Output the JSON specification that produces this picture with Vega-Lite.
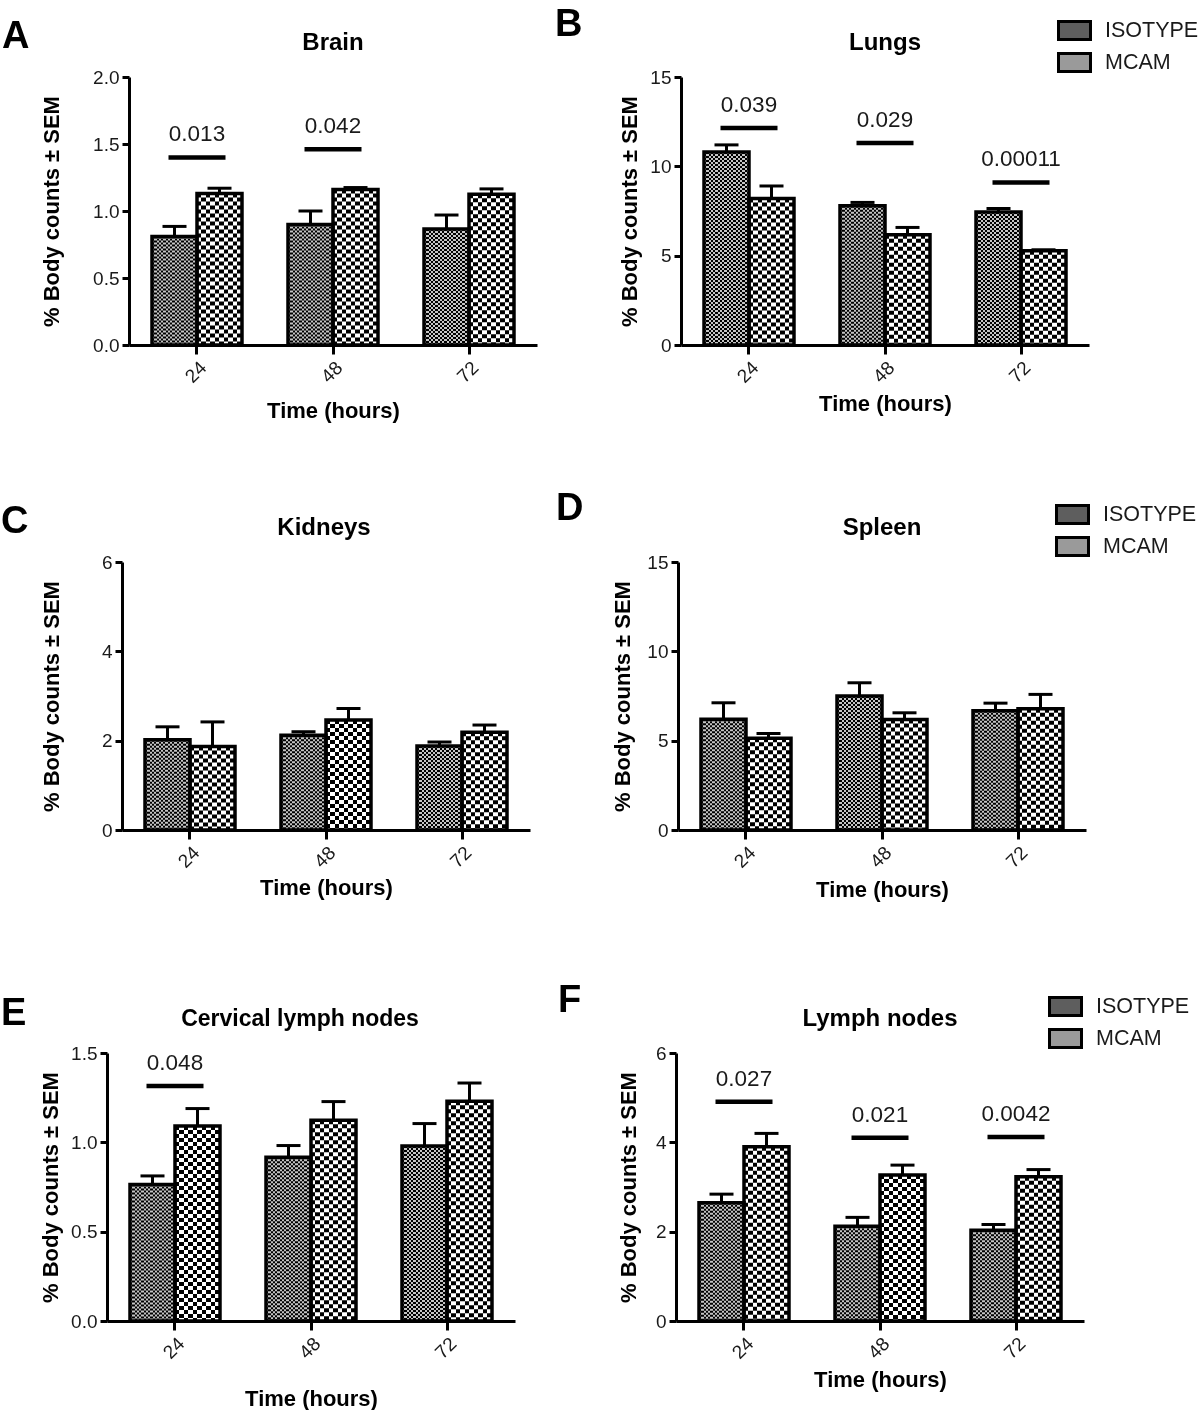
{
  "$schema": "https://vega.github.io/schema/vega-lite/v6.json",
  "padding": {"left": 0, "top": 6, "right": 0, "bottom": 0},
  "background": "white",
  "datasets": {
    "bars": [
      {"panel": "A", "time": "24", "group": "ISOTYPE", "mean": 0.81, "hi": 0.885},
      {"panel": "A", "time": "24", "group": "MCAM", "mean": 1.13, "hi": 1.17},
      {"panel": "A", "time": "48", "group": "ISOTYPE", "mean": 0.90, "hi": 1.00},
      {"panel": "A", "time": "48", "group": "MCAM", "mean": 1.16, "hi": 1.175},
      {"panel": "A", "time": "72", "group": "ISOTYPE", "mean": 0.865, "hi": 0.97},
      {"panel": "A", "time": "72", "group": "MCAM", "mean": 1.125, "hi": 1.165},
      {"panel": "B", "time": "24", "group": "ISOTYPE", "mean": 10.8, "hi": 11.2},
      {"panel": "B", "time": "24", "group": "MCAM", "mean": 8.2, "hi": 8.9},
      {"panel": "B", "time": "48", "group": "ISOTYPE", "mean": 7.8, "hi": 7.98},
      {"panel": "B", "time": "48", "group": "MCAM", "mean": 6.17, "hi": 6.58},
      {"panel": "B", "time": "72", "group": "ISOTYPE", "mean": 7.44, "hi": 7.64},
      {"panel": "B", "time": "72", "group": "MCAM", "mean": 5.27, "hi": 5.33},
      {"panel": "C", "time": "24", "group": "ISOTYPE", "mean": 2.02, "hi": 2.31},
      {"panel": "C", "time": "24", "group": "MCAM", "mean": 1.87, "hi": 2.42},
      {"panel": "C", "time": "48", "group": "ISOTYPE", "mean": 2.12, "hi": 2.20},
      {"panel": "C", "time": "48", "group": "MCAM", "mean": 2.46, "hi": 2.72},
      {"panel": "C", "time": "72", "group": "ISOTYPE", "mean": 1.88, "hi": 1.97},
      {"panel": "C", "time": "72", "group": "MCAM", "mean": 2.19, "hi": 2.35},
      {"panel": "D", "time": "24", "group": "ISOTYPE", "mean": 6.2, "hi": 7.12},
      {"panel": "D", "time": "24", "group": "MCAM", "mean": 5.14, "hi": 5.4},
      {"panel": "D", "time": "48", "group": "ISOTYPE", "mean": 7.5, "hi": 8.24},
      {"panel": "D", "time": "48", "group": "MCAM", "mean": 6.19, "hi": 6.56},
      {"panel": "D", "time": "72", "group": "ISOTYPE", "mean": 6.67, "hi": 7.1},
      {"panel": "D", "time": "72", "group": "MCAM", "mean": 6.79, "hi": 7.59},
      {"panel": "E", "time": "24", "group": "ISOTYPE", "mean": 0.764, "hi": 0.812},
      {"panel": "E", "time": "24", "group": "MCAM", "mean": 1.092, "hi": 1.189},
      {"panel": "E", "time": "48", "group": "ISOTYPE", "mean": 0.917, "hi": 0.982},
      {"panel": "E", "time": "48", "group": "MCAM", "mean": 1.124, "hi": 1.228},
      {"panel": "E", "time": "72", "group": "ISOTYPE", "mean": 0.98, "hi": 1.105},
      {"panel": "E", "time": "72", "group": "MCAM", "mean": 1.23, "hi": 1.332},
      {"panel": "F", "time": "24", "group": "ISOTYPE", "mean": 2.65, "hi": 2.84},
      {"panel": "F", "time": "24", "group": "MCAM", "mean": 3.90, "hi": 4.20},
      {"panel": "F", "time": "48", "group": "ISOTYPE", "mean": 2.12, "hi": 2.32},
      {"panel": "F", "time": "48", "group": "MCAM", "mean": 3.27, "hi": 3.49},
      {"panel": "F", "time": "72", "group": "ISOTYPE", "mean": 2.03, "hi": 2.16},
      {"panel": "F", "time": "72", "group": "MCAM", "mean": 3.23, "hi": 3.39}
    ],
    "sig": [
      {"panel": "A", "time": "24", "y": 1.40, "p": "0.013"},
      {"panel": "A", "time": "48", "y": 1.46, "p": "0.042"},
      {"panel": "B", "time": "24", "y": 12.15, "p": "0.039"},
      {"panel": "B", "time": "48", "y": 11.3, "p": "0.029"},
      {"panel": "B", "time": "72", "y": 9.1, "p": "0.00011"},
      {"panel": "E", "time": "24", "y": 1.315, "p": "0.048"},
      {"panel": "F", "time": "24", "y": 4.91, "p": "0.027"},
      {"panel": "F", "time": "48", "y": 4.10, "p": "0.021"},
      {"panel": "F", "time": "72", "y": 4.12, "p": "0.0042"}
    ]
  },
  "config": {
    "font": "Liberation Sans",
    "view": {"stroke": null},
    "title": {"fontSize": 24, "fontWeight": "bold", "color": "black", "offset": 13, "anchor": "middle"},
    "axis": {"domainColor": "black", "domainWidth": 3, "tickColor": "black", "tickWidth": 3, "labelFontSize": 19, "labelColor": "#1a1a1a", "titleFontSize": 22, "titleFontWeight": "bold", "titleColor": "black", "grid": false},
    "axisX": {"labelAngle": -45, "tickSize": 9, "labelPadding": 4},
    "axisY": {"tickSize": 7, "labelPadding": 3}
  },
  "resolve": {"scale": {"fill": "independent"}, "legend": {"fill": "independent"}},
  "columns": 1,
  "spacing": 81,
  "concat": [
    {
      "resolve": {"scale": {"fill": "independent"}, "legend": {"fill": "independent"}},
      "columns": 1,
      "spacing": 68,
      "concat": [
        {
          "resolve": {"scale": {"fill": "independent"}, "legend": {"fill": "independent"}},
          "spacing": 17,
          "hconcat": [
            {
              "title": {"text": "A", "anchor": "start", "frame": "bounds", "fontSize": 38, "fontWeight": "bold", "dx": -39, "offset": -25},
              "vconcat": [{
                "width": 408, "height": 268,
                "title": {"text": "Brain"},
                "data": {"name": "bars"},
                "transform": [{"filter": "datum.panel === 'A'"}],
                "encoding": {
                  "x": {"field": "time", "type": "nominal", "sort": ["24", "48", "72"], "scale": {"paddingInner": 0.33824, "paddingOuter": 0.16912}, "axis": {"title": "Time (hours)", "titlePadding": 14}}
                },
                "layer": [
                  {"transform": [{"filter": "datum.group === 'ISOTYPE'"}], "mark": {"type": "bar", "fill": {"gradient": "linear", "x1": 0, "y1": 0, "x2": 1, "y2": 0, "stops": [{"offset": 0, "color": "#000000"}, {"offset": 0.05, "color": "#000000"}, {"offset": 0.05, "color": "#c4c4c4"}, {"offset": 0.1, "color": "#c4c4c4"}, {"offset": 0.1, "color": "#000000"}, {"offset": 0.15, "color": "#000000"}, {"offset": 0.15, "color": "#c4c4c4"}, {"offset": 0.2, "color": "#c4c4c4"}, {"offset": 0.2, "color": "#000000"}, {"offset": 0.25, "color": "#000000"}, {"offset": 0.25, "color": "#c4c4c4"}, {"offset": 0.3, "color": "#c4c4c4"}, {"offset": 0.3, "color": "#000000"}, {"offset": 0.35, "color": "#000000"}, {"offset": 0.35, "color": "#c4c4c4"}, {"offset": 0.4, "color": "#c4c4c4"}, {"offset": 0.4, "color": "#000000"}, {"offset": 0.45, "color": "#000000"}, {"offset": 0.45, "color": "#c4c4c4"}, {"offset": 0.5, "color": "#c4c4c4"}, {"offset": 0.5, "color": "#000000"}, {"offset": 0.55, "color": "#000000"}, {"offset": 0.55, "color": "#c4c4c4"}, {"offset": 0.6, "color": "#c4c4c4"}, {"offset": 0.6, "color": "#000000"}, {"offset": 0.65, "color": "#000000"}, {"offset": 0.65, "color": "#c4c4c4"}, {"offset": 0.7, "color": "#c4c4c4"}, {"offset": 0.7, "color": "#000000"}, {"offset": 0.75, "color": "#000000"}, {"offset": 0.75, "color": "#c4c4c4"}, {"offset": 0.8, "color": "#c4c4c4"}, {"offset": 0.8, "color": "#000000"}, {"offset": 0.85, "color": "#000000"}, {"offset": 0.85, "color": "#c4c4c4"}, {"offset": 0.9, "color": "#c4c4c4"}, {"offset": 0.9, "color": "#000000"}, {"offset": 0.95, "color": "#000000"}, {"offset": 0.95, "color": "#c4c4c4"}, {"offset": 1, "color": "#c4c4c4"}]}}, "encoding": {"xOffset": {"field": "group", "type": "nominal", "scale": {"domain": ["ISOTYPE", "MCAM"], "paddingInner": 0, "paddingOuter": 0}}, "y": {"field": "mean", "type": "quantitative", "scale": {"domain": [0, 2], "nice": false}, "axis": {"title": "% Body counts ± SEM", "values": [0, 0.5, 1, 1.5, 2], "format": ".1f", "titlePadding": 28.6}}}},
                  {"transform": [{"filter": "datum.group === 'ISOTYPE'"}], "mark": {"type": "rule", "stroke": "#c4c4c4", "strokeWidth": 45, "strokeDash": [2, 2], "blend": "difference"}, "encoding": {"xOffset": {"field": "group", "type": "nominal"}, "y": {"field": "mean", "type": "quantitative"}, "y2": {"datum": 0}}},
                  {"transform": [{"filter": "datum.group === 'MCAM'"}], "mark": {"type": "bar", "fill": {"gradient": "linear", "x1": 0, "y1": 0, "x2": 1, "y2": 0, "stops": [{"offset": 0, "color": "#ffffff"}, {"offset": 0.1, "color": "#ffffff"}, {"offset": 0.1, "color": "#000000"}, {"offset": 0.2, "color": "#000000"}, {"offset": 0.2, "color": "#ffffff"}, {"offset": 0.3, "color": "#ffffff"}, {"offset": 0.3, "color": "#000000"}, {"offset": 0.4, "color": "#000000"}, {"offset": 0.4, "color": "#ffffff"}, {"offset": 0.5, "color": "#ffffff"}, {"offset": 0.5, "color": "#000000"}, {"offset": 0.6, "color": "#000000"}, {"offset": 0.6, "color": "#ffffff"}, {"offset": 0.7, "color": "#ffffff"}, {"offset": 0.7, "color": "#000000"}, {"offset": 0.8, "color": "#000000"}, {"offset": 0.8, "color": "#ffffff"}, {"offset": 0.9, "color": "#ffffff"}, {"offset": 0.9, "color": "#000000"}, {"offset": 1, "color": "#000000"}]}}, "encoding": {"xOffset": {"field": "group", "type": "nominal"}, "y": {"field": "mean", "type": "quantitative"}}},
                  {"transform": [{"filter": "datum.group === 'MCAM'"}], "mark": {"type": "rule", "stroke": "#ffffff", "strokeWidth": 45, "strokeDash": [4, 4], "blend": "difference"}, "encoding": {"xOffset": {"field": "group", "type": "nominal"}, "y": {"field": "mean", "type": "quantitative"}, "y2": {"datum": 0}}},
                  {"mark": {"type": "bar", "fill": "transparent", "stroke": "black", "strokeWidth": 3.5}, "encoding": {"xOffset": {"field": "group", "type": "nominal"}, "y": {"field": "mean", "type": "quantitative"}}},
                  {"mark": {"type": "rule", "color": "black", "strokeWidth": 3}, "encoding": {"xOffset": {"field": "group", "type": "nominal"}, "y": {"field": "mean", "type": "quantitative"}, "y2": {"field": "hi"}}},
                  {"mark": {"type": "tick", "orient": "horizontal", "color": "black", "opacity": 1, "size": 24, "thickness": 3}, "encoding": {"xOffset": {"field": "group", "type": "nominal"}, "y": {"field": "hi", "type": "quantitative"}}},
                  {"data": {"name": "sig"}, "transform": [{"filter": "datum.panel === 'A'"}], "mark": {"type": "tick", "orient": "horizontal", "color": "black", "opacity": 1, "size": 57, "thickness": 4.5}, "encoding": {"y": {"field": "y", "type": "quantitative"}}},
                  {"data": {"name": "sig"}, "transform": [{"filter": "datum.panel === 'A'"}], "mark": {"type": "text", "dy": -23, "fontSize": 22.5, "color": "#1a1a1a"}, "encoding": {"y": {"field": "y", "type": "quantitative"}, "text": {"field": "p"}}}
                ]
              }]
            },
            {
              "title": {"text": "B", "anchor": "start", "frame": "bounds", "fontSize": 38, "fontWeight": "bold", "dx": -64, "offset": -25},
              "vconcat": [{
                "width": 408, "height": 268,
                "title": {"text": "Lungs"},
                "data": {"name": "bars"},
                "transform": [{"filter": "datum.panel === 'B'"}],
                "encoding": {
                  "x": {"field": "time", "type": "nominal", "sort": ["24", "48", "72"], "scale": {"paddingInner": 0.33824, "paddingOuter": 0.16912}, "axis": {"title": "Time (hours)", "titlePadding": 7}}
                },
                "layer": [
                  {"transform": [{"filter": "datum.group === 'ISOTYPE'"}], "mark": {"type": "bar", "fill": {"gradient": "linear", "x1": 0, "y1": 0, "x2": 1, "y2": 0, "stops": [{"offset": 0, "color": "#000000"}, {"offset": 0.05, "color": "#000000"}, {"offset": 0.05, "color": "#c4c4c4"}, {"offset": 0.1, "color": "#c4c4c4"}, {"offset": 0.1, "color": "#000000"}, {"offset": 0.15, "color": "#000000"}, {"offset": 0.15, "color": "#c4c4c4"}, {"offset": 0.2, "color": "#c4c4c4"}, {"offset": 0.2, "color": "#000000"}, {"offset": 0.25, "color": "#000000"}, {"offset": 0.25, "color": "#c4c4c4"}, {"offset": 0.3, "color": "#c4c4c4"}, {"offset": 0.3, "color": "#000000"}, {"offset": 0.35, "color": "#000000"}, {"offset": 0.35, "color": "#c4c4c4"}, {"offset": 0.4, "color": "#c4c4c4"}, {"offset": 0.4, "color": "#000000"}, {"offset": 0.45, "color": "#000000"}, {"offset": 0.45, "color": "#c4c4c4"}, {"offset": 0.5, "color": "#c4c4c4"}, {"offset": 0.5, "color": "#000000"}, {"offset": 0.55, "color": "#000000"}, {"offset": 0.55, "color": "#c4c4c4"}, {"offset": 0.6, "color": "#c4c4c4"}, {"offset": 0.6, "color": "#000000"}, {"offset": 0.65, "color": "#000000"}, {"offset": 0.65, "color": "#c4c4c4"}, {"offset": 0.7, "color": "#c4c4c4"}, {"offset": 0.7, "color": "#000000"}, {"offset": 0.75, "color": "#000000"}, {"offset": 0.75, "color": "#c4c4c4"}, {"offset": 0.8, "color": "#c4c4c4"}, {"offset": 0.8, "color": "#000000"}, {"offset": 0.85, "color": "#000000"}, {"offset": 0.85, "color": "#c4c4c4"}, {"offset": 0.9, "color": "#c4c4c4"}, {"offset": 0.9, "color": "#000000"}, {"offset": 0.95, "color": "#000000"}, {"offset": 0.95, "color": "#c4c4c4"}, {"offset": 1, "color": "#c4c4c4"}]}}, "encoding": {"xOffset": {"field": "group", "type": "nominal", "scale": {"domain": ["ISOTYPE", "MCAM"], "paddingInner": 0, "paddingOuter": 0}}, "y": {"field": "mean", "type": "quantitative", "scale": {"domain": [0, 15], "nice": false}, "axis": {"title": "% Body counts ± SEM", "values": [0, 5, 10, 15], "format": "d", "titlePadding": 7.9}}}},
                  {"transform": [{"filter": "datum.group === 'ISOTYPE'"}], "mark": {"type": "rule", "stroke": "#c4c4c4", "strokeWidth": 45, "strokeDash": [2, 2], "blend": "difference"}, "encoding": {"xOffset": {"field": "group", "type": "nominal"}, "y": {"field": "mean", "type": "quantitative"}, "y2": {"datum": 0}}},
                  {"transform": [{"filter": "datum.group === 'MCAM'"}], "mark": {"type": "bar", "fill": {"gradient": "linear", "x1": 0, "y1": 0, "x2": 1, "y2": 0, "stops": [{"offset": 0, "color": "#ffffff"}, {"offset": 0.1, "color": "#ffffff"}, {"offset": 0.1, "color": "#000000"}, {"offset": 0.2, "color": "#000000"}, {"offset": 0.2, "color": "#ffffff"}, {"offset": 0.3, "color": "#ffffff"}, {"offset": 0.3, "color": "#000000"}, {"offset": 0.4, "color": "#000000"}, {"offset": 0.4, "color": "#ffffff"}, {"offset": 0.5, "color": "#ffffff"}, {"offset": 0.5, "color": "#000000"}, {"offset": 0.6, "color": "#000000"}, {"offset": 0.6, "color": "#ffffff"}, {"offset": 0.7, "color": "#ffffff"}, {"offset": 0.7, "color": "#000000"}, {"offset": 0.8, "color": "#000000"}, {"offset": 0.8, "color": "#ffffff"}, {"offset": 0.9, "color": "#ffffff"}, {"offset": 0.9, "color": "#000000"}, {"offset": 1, "color": "#000000"}]}}, "encoding": {"xOffset": {"field": "group", "type": "nominal"}, "y": {"field": "mean", "type": "quantitative"}}},
                  {"transform": [{"filter": "datum.group === 'MCAM'"}], "mark": {"type": "rule", "stroke": "#ffffff", "strokeWidth": 45, "strokeDash": [4, 4], "blend": "difference"}, "encoding": {"xOffset": {"field": "group", "type": "nominal"}, "y": {"field": "mean", "type": "quantitative"}, "y2": {"datum": 0}}},
                  {"mark": {"type": "bar", "fill": "transparent", "stroke": "black", "strokeWidth": 3.5}, "encoding": {"xOffset": {"field": "group", "type": "nominal"}, "y": {"field": "mean", "type": "quantitative"}}},
                  {"mark": {"type": "rule", "color": "black", "strokeWidth": 3}, "encoding": {"xOffset": {"field": "group", "type": "nominal"}, "y": {"field": "mean", "type": "quantitative"}, "y2": {"field": "hi"}}},
                  {"mark": {"type": "tick", "orient": "horizontal", "color": "black", "opacity": 1, "size": 24, "thickness": 3}, "encoding": {"xOffset": {"field": "group", "type": "nominal"}, "y": {"field": "hi", "type": "quantitative"}}},
                  {"transform": [{"filter": "datum.mean < 0"}], "mark": {"type": "square", "stroke": "black", "strokeWidth": 3, "opacity": 1}, "encoding": {"y": {"field": "mean", "type": "quantitative"}, "fill": {"field": "group", "type": "nominal", "scale": {"domain": ["ISOTYPE", "MCAM"], "range": ["#5e5e5e", "#9a9a9a"]}, "legend": {"orient": "none", "legendX": 382, "legendY": -58, "title": null, "symbolType": "M-1.6,-0.9H1.6V0.9H-1.6Z", "symbolSize": 400, "symbolStrokeColor": "black", "symbolStrokeWidth": 3, "symbolOpacity": 1, "labelFontSize": 21.5, "labelColor": "#1a1a1a", "labelOffset": 19, "rowPadding": 1}}}},
                  {"data": {"name": "sig"}, "transform": [{"filter": "datum.panel === 'B'"}], "mark": {"type": "tick", "orient": "horizontal", "color": "black", "opacity": 1, "size": 57, "thickness": 4.5}, "encoding": {"y": {"field": "y", "type": "quantitative"}}},
                  {"data": {"name": "sig"}, "transform": [{"filter": "datum.panel === 'B'"}], "mark": {"type": "text", "dy": -23, "fontSize": 22.5, "color": "#1a1a1a"}, "encoding": {"y": {"field": "y", "type": "quantitative"}, "text": {"field": "p"}}}
                ]
              }]
            }
          ]
        },
        {
          "resolve": {"scale": {"fill": "independent"}, "legend": {"fill": "independent"}},
          "spacing": 18,
          "hconcat": [
            {
              "title": {"text": "C", "anchor": "start", "frame": "bounds", "fontSize": 38, "fontWeight": "bold", "dx": -39, "offset": -25},
              "vconcat": [{
                "width": 408, "height": 268,
                "title": {"text": "Kidneys", "dx": -9},
                "data": {"name": "bars"},
                "transform": [{"filter": "datum.panel === 'C'"}],
                "encoding": {
                  "x": {"field": "time", "type": "nominal", "sort": ["24", "48", "72"], "scale": {"range": [-7, 401], "paddingInner": 0.33824, "paddingOuter": 0.16912}, "axis": {"title": "Time (hours)", "titlePadding": 6}}
                },
                "layer": [
                  {"transform": [{"filter": "datum.group === 'ISOTYPE'"}], "mark": {"type": "bar", "fill": {"gradient": "linear", "x1": 0, "y1": 0, "x2": 1, "y2": 0, "stops": [{"offset": 0, "color": "#000000"}, {"offset": 0.05, "color": "#000000"}, {"offset": 0.05, "color": "#c4c4c4"}, {"offset": 0.1, "color": "#c4c4c4"}, {"offset": 0.1, "color": "#000000"}, {"offset": 0.15, "color": "#000000"}, {"offset": 0.15, "color": "#c4c4c4"}, {"offset": 0.2, "color": "#c4c4c4"}, {"offset": 0.2, "color": "#000000"}, {"offset": 0.25, "color": "#000000"}, {"offset": 0.25, "color": "#c4c4c4"}, {"offset": 0.3, "color": "#c4c4c4"}, {"offset": 0.3, "color": "#000000"}, {"offset": 0.35, "color": "#000000"}, {"offset": 0.35, "color": "#c4c4c4"}, {"offset": 0.4, "color": "#c4c4c4"}, {"offset": 0.4, "color": "#000000"}, {"offset": 0.45, "color": "#000000"}, {"offset": 0.45, "color": "#c4c4c4"}, {"offset": 0.5, "color": "#c4c4c4"}, {"offset": 0.5, "color": "#000000"}, {"offset": 0.55, "color": "#000000"}, {"offset": 0.55, "color": "#c4c4c4"}, {"offset": 0.6, "color": "#c4c4c4"}, {"offset": 0.6, "color": "#000000"}, {"offset": 0.65, "color": "#000000"}, {"offset": 0.65, "color": "#c4c4c4"}, {"offset": 0.7, "color": "#c4c4c4"}, {"offset": 0.7, "color": "#000000"}, {"offset": 0.75, "color": "#000000"}, {"offset": 0.75, "color": "#c4c4c4"}, {"offset": 0.8, "color": "#c4c4c4"}, {"offset": 0.8, "color": "#000000"}, {"offset": 0.85, "color": "#000000"}, {"offset": 0.85, "color": "#c4c4c4"}, {"offset": 0.9, "color": "#c4c4c4"}, {"offset": 0.9, "color": "#000000"}, {"offset": 0.95, "color": "#000000"}, {"offset": 0.95, "color": "#c4c4c4"}, {"offset": 1, "color": "#c4c4c4"}]}}, "encoding": {"xOffset": {"field": "group", "type": "nominal", "scale": {"domain": ["ISOTYPE", "MCAM"], "paddingInner": 0, "paddingOuter": 0}}, "y": {"field": "mean", "type": "quantitative", "scale": {"domain": [0, 6], "nice": false}, "axis": {"title": "% Body counts ± SEM", "values": [0, 2, 4, 6], "format": "d", "titlePadding": 38.4, "offset": 7}}}},
                  {"transform": [{"filter": "datum.group === 'ISOTYPE'"}], "mark": {"type": "rule", "stroke": "#c4c4c4", "strokeWidth": 45, "strokeDash": [2, 2], "blend": "difference"}, "encoding": {"xOffset": {"field": "group", "type": "nominal"}, "y": {"field": "mean", "type": "quantitative"}, "y2": {"datum": 0}}},
                  {"transform": [{"filter": "datum.group === 'MCAM'"}], "mark": {"type": "bar", "fill": {"gradient": "linear", "x1": 0, "y1": 0, "x2": 1, "y2": 0, "stops": [{"offset": 0, "color": "#ffffff"}, {"offset": 0.1, "color": "#ffffff"}, {"offset": 0.1, "color": "#000000"}, {"offset": 0.2, "color": "#000000"}, {"offset": 0.2, "color": "#ffffff"}, {"offset": 0.3, "color": "#ffffff"}, {"offset": 0.3, "color": "#000000"}, {"offset": 0.4, "color": "#000000"}, {"offset": 0.4, "color": "#ffffff"}, {"offset": 0.5, "color": "#ffffff"}, {"offset": 0.5, "color": "#000000"}, {"offset": 0.6, "color": "#000000"}, {"offset": 0.6, "color": "#ffffff"}, {"offset": 0.7, "color": "#ffffff"}, {"offset": 0.7, "color": "#000000"}, {"offset": 0.8, "color": "#000000"}, {"offset": 0.8, "color": "#ffffff"}, {"offset": 0.9, "color": "#ffffff"}, {"offset": 0.9, "color": "#000000"}, {"offset": 1, "color": "#000000"}]}}, "encoding": {"xOffset": {"field": "group", "type": "nominal"}, "y": {"field": "mean", "type": "quantitative"}}},
                  {"transform": [{"filter": "datum.group === 'MCAM'"}], "mark": {"type": "rule", "stroke": "#ffffff", "strokeWidth": 45, "strokeDash": [4, 4], "blend": "difference"}, "encoding": {"xOffset": {"field": "group", "type": "nominal"}, "y": {"field": "mean", "type": "quantitative"}, "y2": {"datum": 0}}},
                  {"mark": {"type": "bar", "fill": "transparent", "stroke": "black", "strokeWidth": 3.5}, "encoding": {"xOffset": {"field": "group", "type": "nominal"}, "y": {"field": "mean", "type": "quantitative"}}},
                  {"mark": {"type": "rule", "color": "black", "strokeWidth": 3}, "encoding": {"xOffset": {"field": "group", "type": "nominal"}, "y": {"field": "mean", "type": "quantitative"}, "y2": {"field": "hi"}}},
                  {"mark": {"type": "tick", "orient": "horizontal", "color": "black", "opacity": 1, "size": 24, "thickness": 3}, "encoding": {"xOffset": {"field": "group", "type": "nominal"}, "y": {"field": "hi", "type": "quantitative"}}}
                ]
              }]
            },
            {
              "title": {"text": "D", "anchor": "start", "frame": "bounds", "fontSize": 38, "fontWeight": "bold", "dx": -56, "offset": -25},
              "vconcat": [{
                "width": 408, "height": 268,
                "title": {"text": "Spleen"},
                "data": {"name": "bars"},
                "transform": [{"filter": "datum.panel === 'D'"}],
                "encoding": {
                  "x": {"field": "time", "type": "nominal", "sort": ["24", "48", "72"], "scale": {"paddingInner": 0.33824, "paddingOuter": 0.16912}, "axis": {"title": "Time (hours)", "titlePadding": 8}}
                },
                "layer": [
                  {"transform": [{"filter": "datum.group === 'ISOTYPE'"}], "mark": {"type": "bar", "fill": {"gradient": "linear", "x1": 0, "y1": 0, "x2": 1, "y2": 0, "stops": [{"offset": 0, "color": "#000000"}, {"offset": 0.05, "color": "#000000"}, {"offset": 0.05, "color": "#c4c4c4"}, {"offset": 0.1, "color": "#c4c4c4"}, {"offset": 0.1, "color": "#000000"}, {"offset": 0.15, "color": "#000000"}, {"offset": 0.15, "color": "#c4c4c4"}, {"offset": 0.2, "color": "#c4c4c4"}, {"offset": 0.2, "color": "#000000"}, {"offset": 0.25, "color": "#000000"}, {"offset": 0.25, "color": "#c4c4c4"}, {"offset": 0.3, "color": "#c4c4c4"}, {"offset": 0.3, "color": "#000000"}, {"offset": 0.35, "color": "#000000"}, {"offset": 0.35, "color": "#c4c4c4"}, {"offset": 0.4, "color": "#c4c4c4"}, {"offset": 0.4, "color": "#000000"}, {"offset": 0.45, "color": "#000000"}, {"offset": 0.45, "color": "#c4c4c4"}, {"offset": 0.5, "color": "#c4c4c4"}, {"offset": 0.5, "color": "#000000"}, {"offset": 0.55, "color": "#000000"}, {"offset": 0.55, "color": "#c4c4c4"}, {"offset": 0.6, "color": "#c4c4c4"}, {"offset": 0.6, "color": "#000000"}, {"offset": 0.65, "color": "#000000"}, {"offset": 0.65, "color": "#c4c4c4"}, {"offset": 0.7, "color": "#c4c4c4"}, {"offset": 0.7, "color": "#000000"}, {"offset": 0.75, "color": "#000000"}, {"offset": 0.75, "color": "#c4c4c4"}, {"offset": 0.8, "color": "#c4c4c4"}, {"offset": 0.8, "color": "#000000"}, {"offset": 0.85, "color": "#000000"}, {"offset": 0.85, "color": "#c4c4c4"}, {"offset": 0.9, "color": "#c4c4c4"}, {"offset": 0.9, "color": "#000000"}, {"offset": 0.95, "color": "#000000"}, {"offset": 0.95, "color": "#c4c4c4"}, {"offset": 1, "color": "#c4c4c4"}]}}, "encoding": {"xOffset": {"field": "group", "type": "nominal", "scale": {"domain": ["ISOTYPE", "MCAM"], "paddingInner": 0, "paddingOuter": 0}}, "y": {"field": "mean", "type": "quantitative", "scale": {"domain": [0, 15], "nice": false}, "axis": {"title": "% Body counts ± SEM", "values": [0, 5, 10, 15], "format": "d", "titlePadding": 11.9}}}},
                  {"transform": [{"filter": "datum.group === 'ISOTYPE'"}], "mark": {"type": "rule", "stroke": "#c4c4c4", "strokeWidth": 45, "strokeDash": [2, 2], "blend": "difference"}, "encoding": {"xOffset": {"field": "group", "type": "nominal"}, "y": {"field": "mean", "type": "quantitative"}, "y2": {"datum": 0}}},
                  {"transform": [{"filter": "datum.group === 'MCAM'"}], "mark": {"type": "bar", "fill": {"gradient": "linear", "x1": 0, "y1": 0, "x2": 1, "y2": 0, "stops": [{"offset": 0, "color": "#ffffff"}, {"offset": 0.1, "color": "#ffffff"}, {"offset": 0.1, "color": "#000000"}, {"offset": 0.2, "color": "#000000"}, {"offset": 0.2, "color": "#ffffff"}, {"offset": 0.3, "color": "#ffffff"}, {"offset": 0.3, "color": "#000000"}, {"offset": 0.4, "color": "#000000"}, {"offset": 0.4, "color": "#ffffff"}, {"offset": 0.5, "color": "#ffffff"}, {"offset": 0.5, "color": "#000000"}, {"offset": 0.6, "color": "#000000"}, {"offset": 0.6, "color": "#ffffff"}, {"offset": 0.7, "color": "#ffffff"}, {"offset": 0.7, "color": "#000000"}, {"offset": 0.8, "color": "#000000"}, {"offset": 0.8, "color": "#ffffff"}, {"offset": 0.9, "color": "#ffffff"}, {"offset": 0.9, "color": "#000000"}, {"offset": 1, "color": "#000000"}]}}, "encoding": {"xOffset": {"field": "group", "type": "nominal"}, "y": {"field": "mean", "type": "quantitative"}}},
                  {"transform": [{"filter": "datum.group === 'MCAM'"}], "mark": {"type": "rule", "stroke": "#ffffff", "strokeWidth": 45, "strokeDash": [4, 4], "blend": "difference"}, "encoding": {"xOffset": {"field": "group", "type": "nominal"}, "y": {"field": "mean", "type": "quantitative"}, "y2": {"datum": 0}}},
                  {"mark": {"type": "bar", "fill": "transparent", "stroke": "black", "strokeWidth": 3.5}, "encoding": {"xOffset": {"field": "group", "type": "nominal"}, "y": {"field": "mean", "type": "quantitative"}}},
                  {"mark": {"type": "rule", "color": "black", "strokeWidth": 3}, "encoding": {"xOffset": {"field": "group", "type": "nominal"}, "y": {"field": "mean", "type": "quantitative"}, "y2": {"field": "hi"}}},
                  {"mark": {"type": "tick", "orient": "horizontal", "color": "black", "opacity": 1, "size": 24, "thickness": 3}, "encoding": {"xOffset": {"field": "group", "type": "nominal"}, "y": {"field": "hi", "type": "quantitative"}}},
                  {"transform": [{"filter": "datum.mean < 0"}], "mark": {"type": "square", "stroke": "black", "strokeWidth": 3, "opacity": 1}, "encoding": {"y": {"field": "mean", "type": "quantitative"}, "fill": {"field": "group", "type": "nominal", "scale": {"domain": ["ISOTYPE", "MCAM"], "range": ["#5e5e5e", "#9a9a9a"]}, "legend": {"orient": "none", "legendX": 383, "legendY": -59, "title": null, "symbolType": "M-1.6,-0.9H1.6V0.9H-1.6Z", "symbolSize": 400, "symbolStrokeColor": "black", "symbolStrokeWidth": 3, "symbolOpacity": 1, "labelFontSize": 21.5, "labelColor": "#1a1a1a", "labelOffset": 19, "rowPadding": 1}}}}
                ]
              }]
            }
          ]
        }
      ]
    },
    {
      "resolve": {"scale": {"fill": "independent"}, "legend": {"fill": "independent"}},
      "spacing": 21,
      "hconcat": [
        {
          "title": {"text": "E", "anchor": "start", "frame": "bounds", "fontSize": 38, "fontWeight": "bold", "dx": -39, "offset": -25},
          "vconcat": [{
            "width": 408, "height": 268,
            "title": {"text": "Cervical lymph nodes", "fontSize": 23, "dx": -33},
            "data": {"name": "bars"},
            "transform": [{"filter": "datum.panel === 'E'"}],
            "encoding": {
              "x": {"field": "time", "type": "nominal", "sort": ["24", "48", "72"], "scale": {"range": [-22, 386], "paddingInner": 0.33824, "paddingOuter": 0.16912}, "axis": {"title": "Time (hours)", "titlePadding": 26}}
            },
            "layer": [
              {"transform": [{"filter": "datum.group === 'ISOTYPE'"}], "mark": {"type": "bar", "fill": {"gradient": "linear", "x1": 0, "y1": 0, "x2": 1, "y2": 0, "stops": [{"offset": 0, "color": "#000000"}, {"offset": 0.05, "color": "#000000"}, {"offset": 0.05, "color": "#c4c4c4"}, {"offset": 0.1, "color": "#c4c4c4"}, {"offset": 0.1, "color": "#000000"}, {"offset": 0.15, "color": "#000000"}, {"offset": 0.15, "color": "#c4c4c4"}, {"offset": 0.2, "color": "#c4c4c4"}, {"offset": 0.2, "color": "#000000"}, {"offset": 0.25, "color": "#000000"}, {"offset": 0.25, "color": "#c4c4c4"}, {"offset": 0.3, "color": "#c4c4c4"}, {"offset": 0.3, "color": "#000000"}, {"offset": 0.35, "color": "#000000"}, {"offset": 0.35, "color": "#c4c4c4"}, {"offset": 0.4, "color": "#c4c4c4"}, {"offset": 0.4, "color": "#000000"}, {"offset": 0.45, "color": "#000000"}, {"offset": 0.45, "color": "#c4c4c4"}, {"offset": 0.5, "color": "#c4c4c4"}, {"offset": 0.5, "color": "#000000"}, {"offset": 0.55, "color": "#000000"}, {"offset": 0.55, "color": "#c4c4c4"}, {"offset": 0.6, "color": "#c4c4c4"}, {"offset": 0.6, "color": "#000000"}, {"offset": 0.65, "color": "#000000"}, {"offset": 0.65, "color": "#c4c4c4"}, {"offset": 0.7, "color": "#c4c4c4"}, {"offset": 0.7, "color": "#000000"}, {"offset": 0.75, "color": "#000000"}, {"offset": 0.75, "color": "#c4c4c4"}, {"offset": 0.8, "color": "#c4c4c4"}, {"offset": 0.8, "color": "#000000"}, {"offset": 0.85, "color": "#000000"}, {"offset": 0.85, "color": "#c4c4c4"}, {"offset": 0.9, "color": "#c4c4c4"}, {"offset": 0.9, "color": "#000000"}, {"offset": 0.95, "color": "#000000"}, {"offset": 0.95, "color": "#c4c4c4"}, {"offset": 1, "color": "#c4c4c4"}]}}, "encoding": {"xOffset": {"field": "group", "type": "nominal", "scale": {"domain": ["ISOTYPE", "MCAM"], "paddingInner": 0, "paddingOuter": 0}}, "y": {"field": "mean", "type": "quantitative", "scale": {"domain": [0, 1.5], "nice": false}, "axis": {"title": "% Body counts ± SEM", "values": [0, 0.5, 1, 1.5], "format": ".1f", "titlePadding": 7.6, "offset": 22}}}},
              {"transform": [{"filter": "datum.group === 'ISOTYPE'"}], "mark": {"type": "rule", "stroke": "#c4c4c4", "strokeWidth": 45, "strokeDash": [2, 2], "blend": "difference"}, "encoding": {"xOffset": {"field": "group", "type": "nominal"}, "y": {"field": "mean", "type": "quantitative"}, "y2": {"datum": 0}}},
              {"transform": [{"filter": "datum.group === 'MCAM'"}], "mark": {"type": "bar", "fill": {"gradient": "linear", "x1": 0, "y1": 0, "x2": 1, "y2": 0, "stops": [{"offset": 0, "color": "#ffffff"}, {"offset": 0.1, "color": "#ffffff"}, {"offset": 0.1, "color": "#000000"}, {"offset": 0.2, "color": "#000000"}, {"offset": 0.2, "color": "#ffffff"}, {"offset": 0.3, "color": "#ffffff"}, {"offset": 0.3, "color": "#000000"}, {"offset": 0.4, "color": "#000000"}, {"offset": 0.4, "color": "#ffffff"}, {"offset": 0.5, "color": "#ffffff"}, {"offset": 0.5, "color": "#000000"}, {"offset": 0.6, "color": "#000000"}, {"offset": 0.6, "color": "#ffffff"}, {"offset": 0.7, "color": "#ffffff"}, {"offset": 0.7, "color": "#000000"}, {"offset": 0.8, "color": "#000000"}, {"offset": 0.8, "color": "#ffffff"}, {"offset": 0.9, "color": "#ffffff"}, {"offset": 0.9, "color": "#000000"}, {"offset": 1, "color": "#000000"}]}}, "encoding": {"xOffset": {"field": "group", "type": "nominal"}, "y": {"field": "mean", "type": "quantitative"}}},
              {"transform": [{"filter": "datum.group === 'MCAM'"}], "mark": {"type": "rule", "stroke": "#ffffff", "strokeWidth": 45, "strokeDash": [4, 4], "blend": "difference"}, "encoding": {"xOffset": {"field": "group", "type": "nominal"}, "y": {"field": "mean", "type": "quantitative"}, "y2": {"datum": 0}}},
              {"mark": {"type": "bar", "fill": "transparent", "stroke": "black", "strokeWidth": 3.5}, "encoding": {"xOffset": {"field": "group", "type": "nominal"}, "y": {"field": "mean", "type": "quantitative"}}},
              {"mark": {"type": "rule", "color": "black", "strokeWidth": 3}, "encoding": {"xOffset": {"field": "group", "type": "nominal"}, "y": {"field": "mean", "type": "quantitative"}, "y2": {"field": "hi"}}},
              {"mark": {"type": "tick", "orient": "horizontal", "color": "black", "opacity": 1, "size": 24, "thickness": 3}, "encoding": {"xOffset": {"field": "group", "type": "nominal"}, "y": {"field": "hi", "type": "quantitative"}}},
              {"data": {"name": "sig"}, "transform": [{"filter": "datum.panel === 'E'"}], "mark": {"type": "tick", "orient": "horizontal", "color": "black", "opacity": 1, "size": 57, "thickness": 4.5}, "encoding": {"y": {"field": "y", "type": "quantitative"}}},
              {"data": {"name": "sig"}, "transform": [{"filter": "datum.panel === 'E'"}], "mark": {"type": "text", "dy": -23, "fontSize": 22.5, "color": "#1a1a1a"}, "encoding": {"y": {"field": "y", "type": "quantitative"}, "text": {"field": "p"}}}
            ]
          }]
        },
        {
          "title": {"text": "F", "anchor": "start", "frame": "bounds", "fontSize": 38, "fontWeight": "bold", "dx": -59, "offset": -25},
          "vconcat": [{
            "width": 408, "height": 268,
            "title": {"text": "Lymph nodes"},
            "data": {"name": "bars"},
            "transform": [{"filter": "datum.panel === 'F'"}],
            "encoding": {
              "x": {"field": "time", "type": "nominal", "sort": ["24", "48", "72"], "scale": {"paddingInner": 0.33824, "paddingOuter": 0.16912}, "axis": {"title": "Time (hours)", "titlePadding": 7}}
            },
            "layer": [
              {"transform": [{"filter": "datum.group === 'ISOTYPE'"}], "mark": {"type": "bar", "fill": {"gradient": "linear", "x1": 0, "y1": 0, "x2": 1, "y2": 0, "stops": [{"offset": 0, "color": "#000000"}, {"offset": 0.05, "color": "#000000"}, {"offset": 0.05, "color": "#c4c4c4"}, {"offset": 0.1, "color": "#c4c4c4"}, {"offset": 0.1, "color": "#000000"}, {"offset": 0.15, "color": "#000000"}, {"offset": 0.15, "color": "#c4c4c4"}, {"offset": 0.2, "color": "#c4c4c4"}, {"offset": 0.2, "color": "#000000"}, {"offset": 0.25, "color": "#000000"}, {"offset": 0.25, "color": "#c4c4c4"}, {"offset": 0.3, "color": "#c4c4c4"}, {"offset": 0.3, "color": "#000000"}, {"offset": 0.35, "color": "#000000"}, {"offset": 0.35, "color": "#c4c4c4"}, {"offset": 0.4, "color": "#c4c4c4"}, {"offset": 0.4, "color": "#000000"}, {"offset": 0.45, "color": "#000000"}, {"offset": 0.45, "color": "#c4c4c4"}, {"offset": 0.5, "color": "#c4c4c4"}, {"offset": 0.5, "color": "#000000"}, {"offset": 0.55, "color": "#000000"}, {"offset": 0.55, "color": "#c4c4c4"}, {"offset": 0.6, "color": "#c4c4c4"}, {"offset": 0.6, "color": "#000000"}, {"offset": 0.65, "color": "#000000"}, {"offset": 0.65, "color": "#c4c4c4"}, {"offset": 0.7, "color": "#c4c4c4"}, {"offset": 0.7, "color": "#000000"}, {"offset": 0.75, "color": "#000000"}, {"offset": 0.75, "color": "#c4c4c4"}, {"offset": 0.8, "color": "#c4c4c4"}, {"offset": 0.8, "color": "#000000"}, {"offset": 0.85, "color": "#000000"}, {"offset": 0.85, "color": "#c4c4c4"}, {"offset": 0.9, "color": "#c4c4c4"}, {"offset": 0.9, "color": "#000000"}, {"offset": 0.95, "color": "#000000"}, {"offset": 0.95, "color": "#c4c4c4"}, {"offset": 1, "color": "#c4c4c4"}]}}, "encoding": {"xOffset": {"field": "group", "type": "nominal", "scale": {"domain": ["ISOTYPE", "MCAM"], "paddingInner": 0, "paddingOuter": 0}}, "y": {"field": "mean", "type": "quantitative", "scale": {"domain": [0, 6], "nice": false}, "axis": {"title": "% Body counts ± SEM", "values": [0, 2, 4, 6], "format": "d", "titlePadding": 15.4}}}},
              {"transform": [{"filter": "datum.group === 'ISOTYPE'"}], "mark": {"type": "rule", "stroke": "#c4c4c4", "strokeWidth": 45, "strokeDash": [2, 2], "blend": "difference"}, "encoding": {"xOffset": {"field": "group", "type": "nominal"}, "y": {"field": "mean", "type": "quantitative"}, "y2": {"datum": 0}}},
              {"transform": [{"filter": "datum.group === 'MCAM'"}], "mark": {"type": "bar", "fill": {"gradient": "linear", "x1": 0, "y1": 0, "x2": 1, "y2": 0, "stops": [{"offset": 0, "color": "#ffffff"}, {"offset": 0.1, "color": "#ffffff"}, {"offset": 0.1, "color": "#000000"}, {"offset": 0.2, "color": "#000000"}, {"offset": 0.2, "color": "#ffffff"}, {"offset": 0.3, "color": "#ffffff"}, {"offset": 0.3, "color": "#000000"}, {"offset": 0.4, "color": "#000000"}, {"offset": 0.4, "color": "#ffffff"}, {"offset": 0.5, "color": "#ffffff"}, {"offset": 0.5, "color": "#000000"}, {"offset": 0.6, "color": "#000000"}, {"offset": 0.6, "color": "#ffffff"}, {"offset": 0.7, "color": "#ffffff"}, {"offset": 0.7, "color": "#000000"}, {"offset": 0.8, "color": "#000000"}, {"offset": 0.8, "color": "#ffffff"}, {"offset": 0.9, "color": "#ffffff"}, {"offset": 0.9, "color": "#000000"}, {"offset": 1, "color": "#000000"}]}}, "encoding": {"xOffset": {"field": "group", "type": "nominal"}, "y": {"field": "mean", "type": "quantitative"}}},
              {"transform": [{"filter": "datum.group === 'MCAM'"}], "mark": {"type": "rule", "stroke": "#ffffff", "strokeWidth": 45, "strokeDash": [4, 4], "blend": "difference"}, "encoding": {"xOffset": {"field": "group", "type": "nominal"}, "y": {"field": "mean", "type": "quantitative"}, "y2": {"datum": 0}}},
              {"mark": {"type": "bar", "fill": "transparent", "stroke": "black", "strokeWidth": 3.5}, "encoding": {"xOffset": {"field": "group", "type": "nominal"}, "y": {"field": "mean", "type": "quantitative"}}},
              {"mark": {"type": "rule", "color": "black", "strokeWidth": 3}, "encoding": {"xOffset": {"field": "group", "type": "nominal"}, "y": {"field": "mean", "type": "quantitative"}, "y2": {"field": "hi"}}},
              {"mark": {"type": "tick", "orient": "horizontal", "color": "black", "opacity": 1, "size": 24, "thickness": 3}, "encoding": {"xOffset": {"field": "group", "type": "nominal"}, "y": {"field": "hi", "type": "quantitative"}}},
              {"transform": [{"filter": "datum.mean < 0"}], "mark": {"type": "square", "stroke": "black", "strokeWidth": 3, "opacity": 1}, "encoding": {"y": {"field": "mean", "type": "quantitative"}, "fill": {"field": "group", "type": "nominal", "scale": {"domain": ["ISOTYPE", "MCAM"], "range": ["#5e5e5e", "#9a9a9a"]}, "legend": {"orient": "none", "legendX": 378, "legendY": -58, "title": null, "symbolType": "M-1.6,-0.9H1.6V0.9H-1.6Z", "symbolSize": 400, "symbolStrokeColor": "black", "symbolStrokeWidth": 3, "symbolOpacity": 1, "labelFontSize": 21.5, "labelColor": "#1a1a1a", "labelOffset": 19, "rowPadding": 1}}}},
              {"data": {"name": "sig"}, "transform": [{"filter": "datum.panel === 'F'"}], "mark": {"type": "tick", "orient": "horizontal", "color": "black", "opacity": 1, "size": 57, "thickness": 4.5}, "encoding": {"y": {"field": "y", "type": "quantitative"}}},
              {"data": {"name": "sig"}, "transform": [{"filter": "datum.panel === 'F'"}], "mark": {"type": "text", "dy": -23, "fontSize": 22.5, "color": "#1a1a1a"}, "encoding": {"y": {"field": "y", "type": "quantitative"}, "text": {"field": "p"}}}
            ]
          }]
        }
      ]
    }
  ]
}
